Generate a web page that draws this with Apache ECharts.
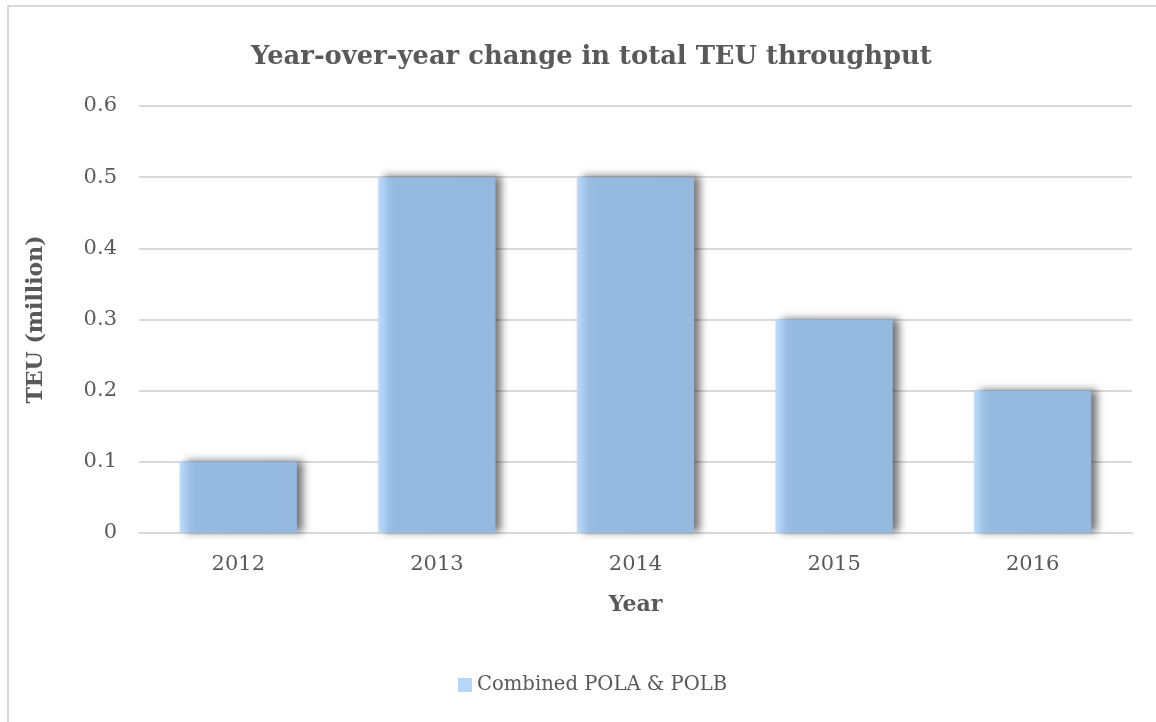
<!DOCTYPE html>
<html>
<head>
<meta charset="utf-8">
<script src="https://cdn.jsdelivr.net/npm/echarts@6/dist/echarts.min.js"></script>
<style>
  html, body { margin: 0; padding: 0; background: #fff; }
  #frame { position: absolute; left: 7px; top: 5px; width: 1200px; height: 760px;
           border: 2px solid #d9d9d9; box-sizing: border-box; }
  #chart { position: absolute; left: 0; top: 0; width: 1156px; height: 722px; }
</style>
</head>
<body>
<div id="frame"></div>
<div id="chart"></div>
<script>
const years = ['2012', '2013', '2014', '2015', '2016'];
const teuChange = [0.1, 0.5, 0.5, 0.3, 0.2];
const seriesName = 'Combined POLA & POLB';

const FONT = '"DejaVu Serif", serif';
const TEXT = '#595959';

const chart = echarts.init(document.getElementById('chart'), null, { renderer: 'canvas' });

const barFill = new echarts.graphic.LinearGradient(0, 0, 1, 0, [
  { offset: 0, color: '#bcdcfc' },
  { offset: 0.09, color: '#9dc0e6' },
  { offset: 0.15, color: '#96b9e0' },
  { offset: 1, color: '#95b8df' }
]);

chart.setOption({
  backgroundColor: 'transparent',
  animation: false,
  title: {
    text: 'Year-over-year change in total TEU throughput',
    left: 246,
    top: 39,
    textStyle: { fontFamily: FONT, fontWeight: 'bold', fontSize: 25.8, color: TEXT }
  },
  grid: { left: 139, right: 24, top: 106, bottom: 189 },
  legend: {
    bottom: 22,
    left: 453,
    itemWidth: 14,
    itemHeight: 14,
    itemGap: 4,
    icon: 'rect',
    textStyle: { fontFamily: FONT, fontSize: 19.6, color: TEXT, padding: [0, 0, 0, 0] },
    data: [{ name: seriesName, itemStyle: { color: '#b4d6f9' } }]
  },
  xAxis: {
    type: 'category',
    data: years,
    name: 'Year',
    nameLocation: 'middle',
    nameGap: 61,
    nameTextStyle: { fontFamily: FONT, fontWeight: 'bold', fontSize: 22, color: TEXT },
    axisLine: { show: true, lineStyle: { color: '#d9d9d9', width: 2 } },
    axisTick: { show: false },
    axisLabel: { fontFamily: FONT, fontSize: 21, color: TEXT, margin: 21 }
  },
  yAxis: {
    type: 'value',
    min: 0,
    max: 0.6,
    interval: 0.1,
    name: 'TEU (million)',
    nameLocation: 'middle',
    nameGap: 92,
    nameTextStyle: { fontFamily: FONT, fontWeight: 'bold', fontSize: 22, color: TEXT },
    axisLine: { show: false },
    axisTick: { show: false },
    splitLine: { lineStyle: { color: '#d9d9d9', width: 2 } },
    axisLabel: {
      fontFamily: FONT, fontSize: 21, color: TEXT, margin: 22,
      formatter: v => (v === 0 ? '0' : String(Math.round(v * 10) / 10))
    }
  },
  series: [{
    name: seriesName,
    type: 'bar',
    data: teuChange,
    barWidth: '59%',
    itemStyle: {
      color: barFill,
      shadowColor: 'rgba(0,0,0,0.55)',
      shadowBlur: 8,
      shadowOffsetX: 6,
      shadowOffsetY: -1
    }
  }]
});
</script>
</body>
</html>
